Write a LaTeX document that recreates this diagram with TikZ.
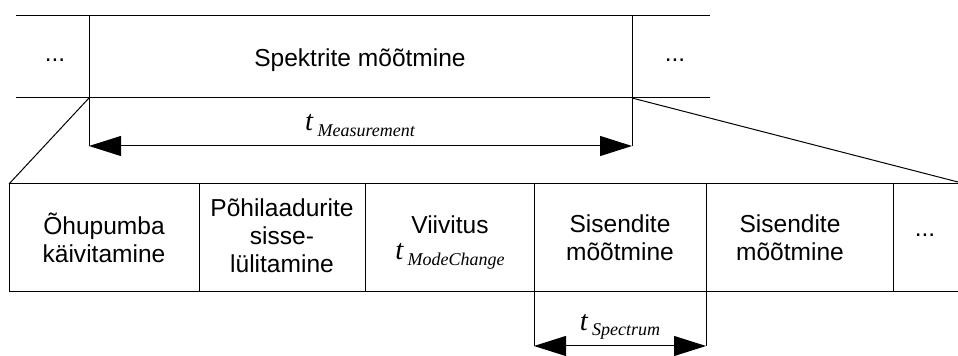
\documentclass[tikz,border=0pt]{standalone}
\usepackage{fontspec}
\setmainfont{Liberation Sans}
\newfontfamily\tmfont{Liberation Serif}
\usetikzlibrary{arrows.meta}
% time symbol with an italic subscript
\newcommand\tsub[1]{\mbox{\tmfont\itshape\fontsize{21.5}{21.5}\selectfont t\hspace{3.3pt}\raisebox{-4.3pt}{\fontsize{13.5}{13.5}\selectfont #1}}}
\tikzset{
  ln/.style={line width=0.75pt, black},
  dim/.style={line width=0.75pt, black, {Triangle[length=24pt,width=15pt]}-{Triangle[length=24pt,width=15pt]}},
  lbl/.style={font=\fontsize{18.4}{21}\selectfont, align=center, inner sep=0pt},
  tl/.style={inner sep=0pt, anchor=base}
}
\begin{document}
\begin{tikzpicture}[x=0.75pt,y=-0.75pt]
\useasboundingbox (0,0) rectangle (958,356);
% upper band
\coordinate (ul) at (16,16);  \coordinate (ur) at (710,16);
\coordinate (ll) at (16,98);  \coordinate (lr) at (710,98);
\coordinate (m1t) at (89,16); \coordinate (m1b) at (89,98); \coordinate (m1e) at (89,146);
\coordinate (m2t) at (632,16); \coordinate (m2b) at (632,98); \coordinate (m2e) at (632,146);
\draw[ln] (ul) -- (ur);
\draw[ln] (ll) -- (lr);
\draw[ln] (m1t) -- (m1e);
\draw[ln] (m2t) -- (m2e);
\node[lbl] (dotsL) at (55,60) {...};
\node[lbl] (spek) at (360,60) {Spektrite mõõtmine};
\node[lbl] (dotsR) at (675,60) {...};
\draw[dim] (m1e) -- (m2e);
\node[tl] (tmeas) at (360,131) {\tsub{Measurement}};
% lower band
\coordinate (bl) at (9,184);  \coordinate (br) at (958,184);
\coordinate (cl) at (9,292);  \coordinate (cr) at (958,292);
\draw[ln] (bl) -- (br);
\draw[ln] (cl) -- (cr);
\draw[ln] (bl) -- (cl);
\foreach \x/\n in {199/a,365/b,893/e}{
  \coordinate (d\n t) at (\x,184); \coordinate (d\n b) at (\x,292);
  \draw[ln] (d\n t) -- (d\n b);
}
\coordinate (dct) at (534,184); \coordinate (dce) at (534,346);
\coordinate (ddt) at (706,184); \coordinate (dde) at (706,346);
\draw[ln] (dct) -- (dce);
\draw[ln] (ddt) -- (dde);
\draw[dim] (dce) -- (dde);
\node[tl] (tspec) at (620,330) {\tsub{Spectrum}};
% zoom lines
\draw[ln] (m1b) -- (bl);
\coordinate (zr) at (958,182);
\draw[ln] (m2b) -- (zr);
% step labels
\node[lbl] (s1) at (104,238) {Õhupumba\\käivitamine};
\node[lbl] (s2) at (282,236) {Põhilaadurite\\sisse-\\lülitamine};
\node[lbl] (s3) at (450,225) {Viivitus};
\node[tl] (tmode) at (450,260) {\tsub{ModeChange}};
\node[lbl] (s4) at (620,238) {Sisendite\\mõõtmine};
\node[lbl] (s5) at (790,238) {Sisendite\\mõõtmine};
\node[lbl] (s6) at (925,235) {...};
\end{tikzpicture}
\end{document}
